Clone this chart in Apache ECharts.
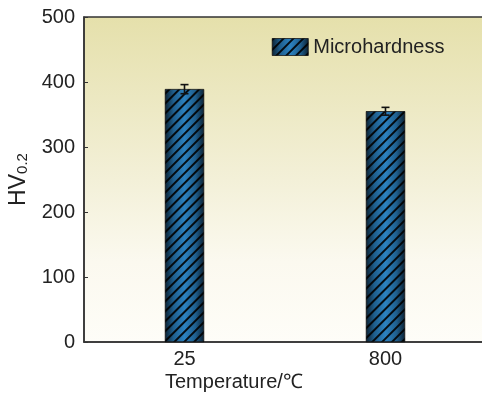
<!DOCTYPE html>
<html><head><meta charset="utf-8">
<script src="https://cdn.jsdelivr.net/npm/echarts@6/dist/echarts.min.js"></script>
<style>html,body{margin:0;padding:0;background:#fff}#c{width:482px;height:397px}</style>
</head><body><div id="c"></div>
<script>
const categories = ['25', '800'];
const hardness = [389, 355];
const errors = [7, 6];
const yTicks = [0, 100, 200, 300, 400, 500];

const chart = echarts.init(document.getElementById('c'));
const font = '"Liberation Sans", Arial, sans-serif';
const barColor = new echarts.graphic.LinearGradient(0, 0, 1, 0, [
  {offset: 0, color: '#0c2233'},
  {offset: 0.22, color: '#1f5f8e'},
  {offset: 0.5, color: '#2c82c0'},
  {offset: 0.78, color: '#1f5f8e'},
  {offset: 1, color: '#0c2233'}
]);
const decal = {symbol: 'rect', symbolSize: 1, dashArrayX: [1, 0], dashArrayY: [1.4, 5], rotation: -Math.PI / 4, color: 'rgba(0,0,0,0.9)'};

chart.setOption({
  animation: false,
  backgroundColor: '#fff',
  textStyle: {fontFamily: font},
  title: {text: 'Temperature/℃', left: 160, top: 367, textStyle: {fontFamily: font, fontSize: 20, fontWeight: 'normal', color: '#222'}},
  legend: {
    left: 267, top: 32, itemWidth: 36, itemHeight: 17, itemGap: 8, icon: 'rect',
    textStyle: {fontFamily: font, fontSize: 20, color: '#222'},
    data: [{name: 'Microhardness', itemStyle: {color: barColor, decal: decal, borderColor: '#111', borderWidth: 0.5}}]
  },
  grid: {
    left: 84, top: 17, bottom: 55, right: -4, show: true, outerBoundsMode: 'none', containLabel: false,
    backgroundColor: new echarts.graphic.LinearGradient(0, 0, 0, 1, [
      {offset: 0, color: '#e5e0ab'},
      {offset: 0.5, color: '#f3f0d8'},
      {offset: 0.75, color: '#fbf9ef'},
      {offset: 1, color: '#fefdf8'}
    ]),
    borderColor: '#333', borderWidth: 1.5
  },
  xAxis: {
    type: 'category', data: categories,
    axisLine: {lineStyle: {color: '#333', width: 1.5}},
    axisTick: {show: false},
    axisLabel: {fontSize: 20, color: '#222', margin: 7, fontFamily: font}
  },
  yAxis: {
    type: 'value', min: 0, max: 500, interval: 100,
    name: 'HV{sub|0.2}', nameLocation: 'middle', nameGap: 50, nameRotate: 90,
    nameTextStyle: {fontSize: 23, color: '#222', fontFamily: font, rich: {sub: {fontSize: 15, verticalAlign: 'bottom', padding: [10, 0, 0, 0], color: '#222'}}},
    axisLine: {show: true, lineStyle: {color: '#333', width: 1.5}},
    axisTick: {show: true, inside: true, length: 4, lineStyle: {color: '#333'}},
    splitLine: {show: false},
    axisLabel: {fontSize: 20, color: '#222', margin: 9, fontFamily: font, formatter: v => yTicks.includes(v) ? String(v) : ''}
  },
  series: [
    {
      name: 'Microhardness', type: 'bar', data: hardness, barWidth: 39,
      itemStyle: {color: barColor, decal: decal, borderColor: '#111', borderWidth: 0.5}
    },
    {
      type: 'custom', name: 'err', z: 5,
      data: hardness.map((v, i) => [i, v - errors[i], v + errors[i]]),
      renderItem: function (params, api) {
        const x = api.value(0);
        const lo = api.coord([x, api.value(1)]);
        const hi = api.coord([x, api.value(2)]);
        const w = 4;
        const st = {stroke: '#111', lineWidth: 1.6};
        return {type: 'group', children: [
          {type: 'line', shape: {x1: hi[0], y1: hi[1], x2: lo[0], y2: lo[1]}, style: st},
          {type: 'line', shape: {x1: hi[0] - w, y1: hi[1], x2: hi[0] + w, y2: hi[1]}, style: st},
          {type: 'line', shape: {x1: lo[0] - w, y1: lo[1], x2: lo[0] + w, y2: lo[1]}, style: st}
        ]};
      }
    }
  ]
});
</script></body></html>
